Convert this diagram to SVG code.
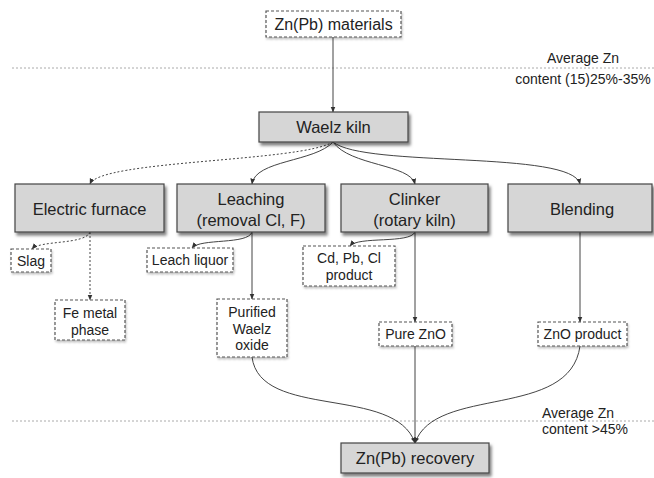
<svg xmlns="http://www.w3.org/2000/svg" width="654" height="478" viewBox="0 0 654 478">
  <defs>
    <filter id="shadow" x="-10%" y="-20%" width="130%" height="150%">
      <feDropShadow dx="2" dy="3" stdDeviation="1.6" flood-color="#000" flood-opacity="0.5"/>
    </filter>
    <filter id="softshadow" x="-10%" y="-20%" width="130%" height="150%">
      <feDropShadow dx="1" dy="2" stdDeviation="1.2" flood-color="#000" flood-opacity="0.25"/>
    </filter>
    <marker id="arrow" viewBox="0 0 10 10" refX="9" refY="5" markerWidth="6" markerHeight="6" orient="auto-start-reverse">
      <path d="M0,1 L10,5 L0,9 Z" fill="#333"/>
    </marker>
  </defs>
  <style>
    text { font-family: "Liberation Sans", Arial, sans-serif; fill: #222; }
    .main rect { fill: #d6d6d6; stroke: #444; stroke-width: 1.2; filter: url(#shadow); }
    .main text { font-size: 16.5px; text-anchor: middle; }
    .out rect { fill: #fff; stroke: #555; stroke-width: 1.2; stroke-dasharray: 3 2; filter: url(#softshadow); }
    .out text { font-size: 14px; text-anchor: middle; }
    .note { font-size: 14px; }
    .level { stroke: #aaa; stroke-width: 1; stroke-dasharray: 2 2; }
    .edge { fill: none; stroke: #444; stroke-width: 1; marker-end: url(#arrow); }
    .dotted { stroke-dasharray: 2 2; }
  </style>

  <rect width="654" height="478" fill="#fff"/>

  <!-- zinc content levels -->
  <g id="levels">
    <line class="level" x1="12" y1="68" x2="654" y2="68"/>
    <line class="level" x1="12" y1="421" x2="654" y2="421"/>
    <text class="note" x="583" y="63" text-anchor="middle">Average Zn</text>
    <text class="note" x="583" y="84" text-anchor="middle">content (15)25%-35%</text>
    <text class="note" x="542" y="418">Average Zn</text>
    <text class="note" x="542" y="434">content &gt;45%</text>
  </g>

  <!-- connectors -->
  <g id="connectors">
    <path class="edge" d="M333,37 L333,112"/>
    <path class="edge dotted" d="M333,142 C300,162 100,160 90,184"/>
    <path class="edge" d="M333,142 C315,162 255,160 252,184"/>
    <path class="edge" d="M333,142 C350,166 410,164 415,184"/>
    <path class="edge" d="M333,142 C365,168 572,150 580,184"/>
    <path class="edge dotted" d="M90,232 C85,245 40,240 32,249"/>
    <path class="edge dotted" d="M90,232 L90,300"/>
    <path class="edge" d="M252,232 C248,245 200,238 192,248"/>
    <path class="edge" d="M252,232 L252,299"/>
    <path class="edge" d="M415,232 C410,244 358,236 350,246"/>
    <path class="edge" d="M415,232 L415,322"/>
    <path class="edge" d="M580,232 L580,322"/>
    <path class="edge" d="M252,357 C260,420 395,385 415,443"/>
    <path class="edge" d="M415,346 L415,443"/>
    <path class="edge" d="M580,346 C570,420 435,385 415,443"/>
  </g>

  <g id="materials" class="out">
    <rect x="266" y="11" width="135" height="26"/>
    <text x="333.5" y="30" style="font-size:16px">Zn(Pb) materials</text>
  </g>

  <g id="waelz-kiln" class="main">
    <rect x="259" y="112" width="149" height="30"/>
    <text x="333.5" y="133">Waelz kiln</text>
  </g>

  <g id="electric-furnace" class="main">
    <rect x="15" y="184" width="149" height="48"/>
    <text x="89.5" y="215">Electric furnace</text>
  </g>

  <g id="leaching" class="main">
    <rect x="177" y="184" width="148" height="48"/>
    <text x="251" y="205">Leaching</text>
    <text x="251" y="226">(removal Cl, F)</text>
  </g>

  <g id="clinker" class="main">
    <rect x="341" y="184" width="147" height="48"/>
    <text x="414.5" y="205">Clinker</text>
    <text x="414.5" y="226">(rotary kiln)</text>
  </g>

  <g id="blending" class="main">
    <rect x="508" y="184" width="144" height="48"/>
    <text x="582" y="215">Blending</text>
  </g>

  <g id="slag" class="out">
    <rect x="11" y="249" width="40" height="23"/>
    <text x="31" y="266">Slag</text>
  </g>

  <g id="fe-metal" class="out">
    <rect x="55" y="300" width="70" height="40"/>
    <text x="90" y="318">Fe metal</text>
    <text x="90" y="335">phase</text>
  </g>

  <g id="leach-liquor" class="out">
    <rect x="147" y="248" width="86" height="24"/>
    <text x="190" y="265">Leach liquor</text>
  </g>

  <g id="purified-oxide" class="out">
    <rect x="217" y="299" width="70" height="58"/>
    <text x="252" y="317">Purified</text>
    <text x="252" y="334">Waelz</text>
    <text x="252" y="350">oxide</text>
  </g>

  <g id="cd-pb-cl" class="out">
    <rect x="303" y="246" width="92" height="40"/>
    <text x="349" y="263">Cd, Pb, Cl</text>
    <text x="349" y="280">product</text>
  </g>

  <g id="pure-zno" class="out">
    <rect x="379" y="322" width="73" height="24"/>
    <text x="415.5" y="339">Pure ZnO</text>
  </g>

  <g id="zno-product" class="out">
    <rect x="538" y="322" width="89" height="24"/>
    <text x="582.5" y="339">ZnO product</text>
  </g>

  <g id="recovery" class="main">
    <rect x="341" y="443" width="148" height="30"/>
    <text x="415" y="464">Zn(Pb) recovery</text>
  </g>
</svg>
